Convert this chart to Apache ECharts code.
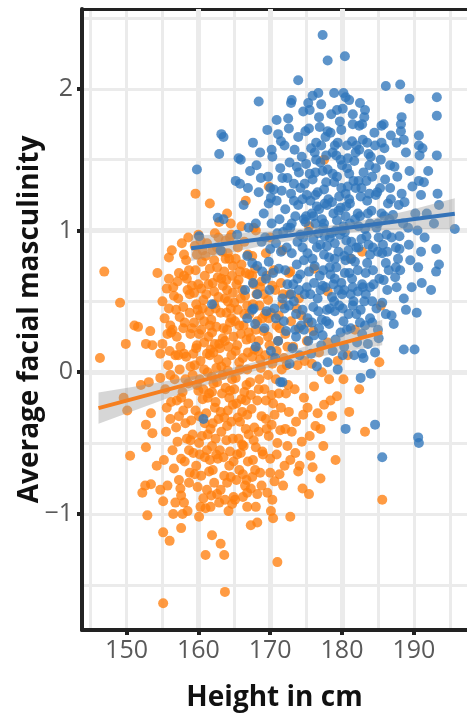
<!DOCTYPE html>
<html>
<head>
<meta charset="utf-8">
<title>Height vs facial masculinity</title>
<script src="https://cdn.jsdelivr.net/npm/echarts@6/dist/echarts.min.js"></script>
<style>
  html, body { margin: 0; padding: 0; background: #fff; }
  #chart { width: 467px; height: 717px; }
</style>
</head>
<body>
<div id="chart"></div>
<script>
// tick labels
const xTicks = [150, 160, 170, 180, 190];
const yTicks = [-1, 0, 1, 2];

// women (orange): [height cm, avg facial masculinity]
const femalePoints = [
  [146.9,0.71],[149.1,0.49],[146.3,0.10],[155.9,0.81],[154.3,0.70],[155.0,0.50],[151.1,0.33],[151.6,0.32],
  [153.3,0.29],[149.9,0.20],[152.7,0.20],[153.6,0.19],[155.0,0.20],[154.7,0.13],[156.1,0.33],[156.4,0.30],
  [149.6,-0.18],[150.1,-0.27],[153.4,-0.29],[152.0,-0.09],[153.1,-0.07],[154.7,-0.04],[156.1,-0.02],
  [157.1,0.64],[158.0,0.68],[155.6,0.59],[156.6,0.54],[155.9,0.45],
  [155.1,-1.63],[163.7,-1.55],[150.5,-0.59],[152.9,-1.01],[152.2,-0.85],[152.6,-0.80],[153.4,-0.79],
  [154.7,-0.83],[155.1,-0.91],[155.1,-1.13],[156.0,-1.19],[157.6,-1.10],[156.5,-1.00],[157.8,-1.00],
  [157.6,-0.87],[158.0,-0.92],[160.1,-1.02],[161.9,-1.15],[163.1,-1.21],[161.0,-1.29],[163.6,-1.29],
  [167.3,-1.08],[168.2,-1.06],[170.1,-0.98],[170.4,-1.03],[171.0,-1.34],[154.2,-0.66],[152.7,-0.53],
  [153.6,-0.43],[152.7,-0.37],[164.7,-0.93],[167.5,-0.74],[161.2,-0.83],[162.6,-0.86],[157.3,-0.76],
  [158.7,-0.78],[166.8,-0.85],
  [183.2,-0.42],[185.6,-0.90],[185.2,0.07],[175.4,-0.86],[172.8,-1.02],[177.0,-0.75],[175.6,-0.59],
  [175.9,-0.67],[173.5,-0.57],[174.1,-0.66],[177.5,-0.23],[176.6,-0.29],[179.3,-0.17],[178.2,-0.05],
  [179.4,0.08],[180.8,0.12],
  [159.6,1.26],[161.6,1.19],[162.9,1.06],[164.5,1.05],[166.6,1.21],[169.8,1.31],[177.5,1.50],
  [167.7,1.02],[175.4,1.03],[182.8,0.85],[181.2,0.80],[172.8,0.71],[176.1,0.73],[178.0,0.57],
  [185.4,0.47],[174.0,0.52],
  [155.3,0.38],[155.8,0.05],[156.2,-0.21],[155.5,-0.42],[156.8,0.12],[156.4,-0.55],[155.9,0.66],
  [156.9,0.44],[156.1,-0.33],[155.4,-0.12],[156.6,-0.68],[157.0,0.25],[155.7,0.27],[156.3,0.86],
  [156.7,-0.05],[155.2,-0.62],[156.0,0.15],[156.9,-0.39],[155.6,-0.25],[156.5,0.60],
  [157.2,0.52],[157.5,0.18],[157.8,-0.14],[158.1,0.35],[158.4,-0.47],[158.7,0.72],[158.9,0.04],
  [157.3,-0.31],[157.6,-0.61],[158.0,0.83],[158.3,0.11],[158.6,-0.22],[158.8,-0.71],[157.4,0.02],
  [157.9,0.46],[158.2,-0.36],[158.5,0.58],[157.1,-0.49],[157.7,0.91],[158.9,0.27],[157.5,-0.82],
  [158.2,-0.05],[158.7,-0.55],[157.9,0.31],[158.4,0.66],[157.2,0.12],[158.8,0.42],[157.6,-0.18],
  [158.1,-0.63],[158.6,0.95],
  [159.1,0.61],[159.3,0.13],[159.6,-0.27],[159.9,0.44],[160.2,-0.58],[160.5,0.78],[160.8,0.02],
  [159.2,-0.44],[159.5,0.89],[159.8,-0.09],[160.1,0.27],[160.4,-0.73],[160.7,0.51],[160.9,-0.36],
  [159.4,0.35],[159.7,-0.66],[160.0,0.97],[160.3,0.08],[160.6,-0.19],[160.9,0.68],[159.2,-0.02],
  [159.6,0.72],[159.9,-0.81],[160.2,0.40],[160.5,-0.45],[160.8,0.21],[159.3,-0.57],[159.8,0.19],
  [160.1,-0.31],[160.4,0.59],[160.7,-0.89],[159.5,0.05],[160.0,-0.13],[160.6,0.86],[159.1,0.31],
  [160.3,-0.95],[160.8,0.36],[159.7,0.48],[160.2,-0.05],[160.9,-0.60],
  [161.1,0.55],[161.3,-0.18],[161.6,0.12],[161.9,-0.52],[162.2,0.79],[162.5,0.03],[162.8,-0.33],
  [161.2,0.91],[161.5,-0.70],[161.8,0.37],[162.1,-0.08],[162.4,0.45],[162.7,-0.61],[162.9,0.20],
  [161.4,0.25],[161.7,-0.40],[162.0,0.63],[162.3,-0.25],[162.6,0.88],[161.1,-0.29],[161.5,0.43],
  [161.8,-0.87],[162.1,0.14],[162.4,-0.47],[162.7,0.67],[161.3,0.00],[161.6,0.73],[161.9,-0.14],
  [162.2,-0.78],[162.5,0.32],[162.8,0.53],[161.2,-0.55],[161.7,0.16],[162.0,-0.36],[162.3,0.98],
  [162.6,-0.07],[162.9,-0.92],[161.4,0.62],[161.9,0.28],[162.4,-0.21],[162.8,0.09],[161.0,-0.96],
  [162.2,0.48],[161.6,-0.62],[162.6,0.74],
  [163.1,0.42],[163.3,-0.15],[163.6,0.71],[163.9,-0.48],[164.2,0.18],[164.5,-0.74],[164.8,0.56],
  [163.2,0.04],[163.5,-0.60],[163.8,0.93],[164.1,-0.27],[164.4,0.35],[164.7,-0.05],[164.9,-0.88],
  [163.4,0.61],[163.7,0.22],[164.0,-0.38],[164.3,0.80],[164.6,0.12],[163.1,-0.83],[163.5,0.31],
  [163.8,-0.11],[164.1,0.50],[164.4,-0.56],[164.7,0.68],[163.3,0.85],[163.6,-0.32],[163.9,0.07],
  [164.2,-0.98],[164.5,0.45],[164.8,-0.23],[163.2,-0.42],[163.7,0.52],[164.0,0.30],[164.3,-0.66],
  [164.6,0.97],[164.9,0.25],[163.4,-0.02],[163.9,0.65],[164.4,-0.13],[164.8,-0.47],[163.0,0.17],
  [164.1,0.84],[163.6,-0.73],[164.6,-0.35],
  [165.1,0.36],[165.3,-0.22],[165.6,0.65],[165.9,-0.57],[166.2,0.10],[166.5,-0.80],[166.8,0.47],
  [165.2,-0.04],[165.5,0.88],[165.8,-0.35],[166.1,0.58],[166.4,-0.14],[166.7,0.23],[166.9,-0.63],
  [165.4,0.19],[165.7,-0.69],[166.0,0.76],[166.3,0.33],[166.6,-0.40],[165.1,-0.90],[165.5,0.44],
  [165.8,0.02],[166.1,-0.28],[166.4,0.92],[166.7,-0.09],[165.3,0.62],[165.6,-0.47],[165.9,0.27],
  [166.2,-0.72],[166.5,0.54],[166.8,-0.30],[165.2,0.80],[165.7,0.07],[166.0,-0.19],[166.6,0.70],
  [166.9,0.14],[165.4,-0.58],[166.3,-0.52],[165.0,0.49],[166.8,-0.95],
  [167.1,0.41],[167.4,-0.26],[167.7,0.62],[168.0,-0.53],[168.3,0.15],[168.6,-0.71],[168.9,0.38],
  [167.2,-0.07],[167.5,0.82],[167.8,-0.39],[168.1,0.55],[168.4,-0.12],[168.7,0.03],[167.3,0.24],
  [167.6,-0.62],[167.9,0.73],[168.2,-0.86],[168.5,0.47],[168.8,-0.31],[167.0,-0.44],[167.5,0.11],
  [168.0,0.30],[168.4,-0.42],[168.8,0.64],[167.3,-0.82],[167.8,0.16],[168.6,0.09],[167.1,0.69],
  [168.2,-0.20],[168.9,-0.56],
  [169.1,0.29],[169.4,-0.33],[169.7,0.51],[170.0,-0.61],[170.3,0.06],[170.6,-0.77],[170.9,0.33],
  [169.2,-0.12],[169.5,0.68],[169.8,-0.45],[170.1,0.42],[170.4,-0.22],[170.7,0.58],[169.3,0.12],
  [169.6,-0.85],[169.9,0.19],[170.2,-0.37],[170.5,0.72],[170.8,-0.05],[169.0,-0.58],[169.7,-0.02],
  [170.3,-0.90],[170.9,0.15],[169.4,0.84],
  [171.1,0.22],[171.4,-0.41],[171.7,0.48],[172.0,-0.66],[172.3,0.05],[172.6,-0.28],[172.9,0.36],
  [171.2,-0.15],[171.5,0.63],[171.8,-0.80],[172.1,0.27],[172.4,-0.52],[172.7,0.55],[171.3,-0.72],
  [171.9,0.10],[172.5,-0.09],[172.8,-0.62],[171.6,0.02],
  [173.2,0.18],[173.6,-0.35],[174.0,0.31],[174.4,-0.49],[174.8,0.08],[175.2,-0.25],[173.4,-0.12],
  [173.9,-0.70],[174.3,0.40],[174.7,-0.18],[175.1,0.22],[175.5,-0.45],[173.7,0.45],[174.5,-0.82],
  [175.8,0.06],
  [176.3,-0.38],[176.8,0.14],[177.4,-0.52],[178.0,0.21],[178.6,-0.31],[179.1,-0.62],[180.2,-0.05],
  [181.0,-0.28],[181.8,0.30],[176.0,0.29],[177.2,0.00],[182.4,-0.12],
  [157.4,0.39],[157.9,-0.27],[158.3,0.79],[158.6,-0.08],[159.0,-0.34],[159.4,0.56],[159.7,0.17],
  [160.1,-0.50],[160.4,0.30],[160.7,-0.12],[161.0,0.82],[161.3,-0.44],[161.6,0.33],[161.9,-0.03],
  [162.2,0.57],[162.5,-0.58],[162.8,0.95],[163.1,-0.28],[163.4,0.24],[163.7,-0.90],[164.0,0.58],
  [164.3,-0.18],[164.6,0.38],[164.9,-0.63],[165.2,0.15],[165.5,-0.32],[165.8,0.71],[166.1,-0.51],
  [166.4,0.41],[166.7,-0.76],[167.0,0.28],[167.3,-0.16],[167.6,0.48],[167.9,-0.69],[168.2,0.36],
  [168.5,-0.05],[168.8,-0.80],[169.1,0.55],[169.4,-0.20],[169.7,0.25],[170.0,-0.71],[170.3,0.61],
  [170.6,-0.30],[170.9,-0.58],[171.2,0.40],[171.5,-0.25],[171.8,0.55],[172.1,-0.40],[172.4,0.18],
  [158.0,0.13],[158.9,-0.48],[159.8,0.83],[160.6,0.45],[161.5,-0.15],[162.3,0.20],[163.2,0.66],
  [164.1,0.01],[165.0,-0.12],[165.9,0.52],[166.8,0.02],[167.7,-0.48],[168.6,0.60],[169.5,-0.40],
  [170.4,0.10],[171.3,0.31],[160.0,0.62],[161.2,0.13],[162.0,-0.69],[163.0,-0.55],[163.9,0.42],
  [164.8,0.75],[165.7,0.33],[166.6,-0.20],[167.5,0.68],[168.4,0.22],[169.3,0.41],[170.2,-0.16],
  [157.0,-0.20],[156.2,0.28],[155.7,-0.80],[156.8,-0.92],[158.5,-0.98],[159.5,-0.72],[161.7,-0.95],
  [164.0,-0.78],[166.2,-0.88],[168.0,-0.95],[162.0,0.86],[164.4,0.95],[166.9,0.83],[158.8,0.55],
  [157.3,0.70],[160.3,0.93],[163.8,0.80],[165.3,-0.76],[169.8,0.38],[171.0,-0.50],[172.2,-0.15],
  [173.0,-0.42],[173.8,0.05],[174.6,-0.30],[175.3,0.35],[176.1,-0.10],[177.0,-0.40],[178.4,-0.20],
  [172.6,0.70],[171.7,0.86],[170.0,0.95],[168.0,1.00],[166.0,1.03],[164.0,1.12]
];

// men (blue): [height cm, avg facial masculinity]
const malePoints = [
  [163.5,1.66],[163.2,1.68],[162.9,1.54],[159.8,1.43],[165.2,1.35],[162.7,1.09],[163.5,1.08],[165.6,1.51],
  [177.3,2.38],[178.0,2.20],[180.4,2.23],[173.9,2.06],[186.1,2.02],[188.1,2.03],[189.4,1.93],[193.2,1.94],
  [193.2,1.81],[193.2,1.53],[168.4,1.91],[172.9,1.90],[176.7,1.97],[180.2,1.97],[180.5,1.94],[181.0,1.92],
  [183.2,1.85],[181.5,1.82],[182.4,1.74],[185.5,1.74],[186.8,1.67],[188.3,1.80],[188.2,1.75],[188.2,1.70],
  [188.6,1.64],[190.7,1.67],[190.7,1.60],[190.8,1.53],[171.1,1.68],[172.6,1.72],[167.6,1.62],[170.2,1.57],
  [165.9,1.50],[168.1,1.46],[168.7,1.37],[165.8,1.33],[170.1,1.23],[171.7,1.37],[193.3,1.26],[193.5,1.18],
  [195.7,1.01],[190.7,1.35],[191.4,1.34],
  [190.5,1.00],[191.0,0.85],[193.1,0.87],[193.5,0.76],[193.1,0.71],[191.1,0.63],[187.6,0.60],[187.5,0.74],
  [187.5,0.88],[188.0,0.87],[185.6,0.84],[186.1,0.41],
  [188.6,0.16],[190.1,0.16],[182.6,-0.04],[184.0,-0.01],[180.5,-0.40],[184.6,-0.37],[190.6,-0.46],
  [190.7,-0.50],[185.6,-0.60],[178.0,0.07],[182.8,0.13],[171.4,-0.07],
  [161.9,0.48],[167.7,0.45],[160.1,0.96],[165.4,0.97],[163.1,0.86],[167.5,0.77],[168.2,0.75],[166.8,0.38],
  [168.0,0.18],[170.1,0.15],[170.8,0.38],[160.7,-0.33],[167.5,0.44],[171.7,-0.07],
  [166.3,1.18],[166.8,0.82],[167.2,1.42],[167.6,0.63],[168.0,1.05],[168.4,1.27],[168.8,0.92],[166.5,0.58],
  [167.9,0.34],[168.6,1.55],[167.0,1.02],[168.2,0.55],[166.9,1.30],[168.9,0.71],
  [169.1,1.12],[169.4,0.66],[169.7,1.38],[170.0,0.87],[170.3,1.52],[170.6,0.45],[170.9,1.21],[171.2,0.73],
  [171.5,1.63],[171.8,0.99],[169.2,0.31],[169.6,1.71],[169.9,0.58],[170.2,1.05],[170.5,1.29],[170.8,0.91],
  [171.1,0.22],[171.4,1.44],[171.7,0.52],[169.3,0.95],[169.8,1.19],[170.4,0.70],[170.9,1.78],[171.3,1.08],
  [171.9,0.36],[169.5,0.43],[170.7,0.10],[171.6,1.28],
  [172.1,1.15],[172.4,0.62],[172.7,1.48],[173.0,0.84],[173.3,1.33],[173.6,0.41],[173.9,1.66],[174.2,0.97],
  [174.5,1.22],[174.8,0.55],[172.2,0.29],[172.5,1.79],[172.8,1.02],[173.1,0.17],[173.4,1.57],[173.7,0.76],
  [174.0,1.41],[174.3,0.33],[174.6,1.84],[174.9,1.06],[172.3,0.88],[172.6,0.47],[172.9,1.26],[173.2,0.62],
  [173.5,1.10],[173.8,0.92],[174.1,0.12],[174.4,1.52],[174.7,0.79],[172.0,1.60],[173.0,1.92],[173.6,0.25],
  [174.2,0.69],[174.8,1.33],[172.7,0.06],[173.9,1.18],[174.5,0.44],[172.4,1.37],[173.3,0.50],[174.9,1.70],
  [172.1,0.72],[174.6,0.95],[173.7,1.45],
  [175.1,1.25],[175.4,0.71],[175.7,1.58],[176.0,0.94],[176.3,1.41],[176.6,0.52],[176.9,1.73],[177.2,1.08],
  [177.5,0.83],[177.8,1.34],[175.2,0.38],[175.5,1.85],[175.8,1.12],[176.1,0.26],[176.4,1.62],[176.7,0.98],
  [177.0,1.48],[177.3,0.61],[177.6,1.19],[177.9,0.44],[175.3,0.99],[175.6,0.55],[175.9,1.36],[176.2,0.75],
  [176.5,1.17],[176.8,0.31],[177.1,1.89],[177.4,1.02],[177.7,1.66],[175.0,1.47],[175.7,0.13],[176.3,1.05],
  [176.9,0.68],[177.5,1.29],[177.9,0.89],[175.4,1.72],[176.0,0.46],[176.6,1.27],[177.2,0.37],[177.8,1.53],
  [175.2,0.84],[175.9,1.95],[176.5,0.88],[177.1,0.19],[177.6,0.96],[176.2,1.55],[176.8,1.15],[177.4,0.72],
  [175.6,1.21],[177.0,0.58],
  [178.1,1.22],[178.4,0.69],[178.7,1.55],[179.0,0.91],[179.3,1.38],[179.6,0.47],[179.9,1.71],[180.2,1.03],
  [180.5,0.79],[180.8,1.31],[178.2,0.34],[178.5,1.82],[178.8,1.12],[179.1,0.23],[179.4,1.62],[179.7,0.97],
  [180.0,1.46],[180.3,0.58],[180.6,1.17],[180.9,0.41],[178.3,0.95],[178.6,0.53],[178.9,1.34],[179.2,0.74],
  [179.5,1.14],[179.8,0.28],[180.1,1.86],[180.4,0.99],[180.7,1.60],[178.0,1.43],[178.7,0.15],[179.3,1.07],
  [179.9,0.63],[180.5,1.26],[180.9,0.86],[178.4,1.69],[179.0,0.43],[179.6,1.24],[180.2,0.36],[180.8,1.51],
  [178.2,0.81],[178.9,1.97],[179.5,0.85],[180.1,0.12],[180.6,0.93],[179.2,1.53],[179.8,1.16],[180.4,0.70],
  [178.6,1.20],[180.0,0.55],[178.8,0.62],[179.7,1.77],
  [181.1,1.19],[181.4,0.66],[181.7,1.49],[182.0,0.88],[182.3,1.35],[182.6,0.44],[182.9,1.64],[183.2,1.01],
  [183.5,0.77],[183.8,1.26],[181.2,0.31],[181.5,1.75],[181.8,1.08],[182.1,0.21],[182.4,1.57],[182.7,0.94],
  [183.0,1.41],[183.3,0.55],[183.6,1.12],[183.9,0.38],[181.3,0.92],[181.6,0.50],[181.9,1.30],[182.2,0.72],
  [182.5,1.10],[182.8,0.27],[183.1,1.80],[183.4,0.96],[183.7,1.54],[181.0,1.40],[181.7,0.12],[182.3,1.03],
  [182.9,0.60],[183.5,1.21],[183.9,0.83],[181.4,1.63],[182.0,0.41],[182.6,1.24],[183.2,0.33],[183.8,1.46],
  [181.8,0.78],[182.5,1.90],[183.3,0.70],
  [184.1,1.14],[184.4,0.62],[184.7,1.44],[185.0,0.85],[185.3,1.30],[185.6,0.49],[185.9,1.58],[186.2,0.97],
  [186.5,0.72],[186.8,1.22],[184.2,0.35],[184.5,1.69],[184.8,1.02],[185.1,0.24],[185.4,1.50],[185.7,0.90],
  [186.0,1.36],[186.3,0.58],[186.6,1.08],[186.9,0.40],[184.3,0.88],[184.9,1.27],[185.5,1.12],[186.1,0.77],
  [186.7,1.46],[184.6,0.14],[185.2,0.66],[185.8,1.75],[186.4,1.19],[184.0,1.52],
  [187.1,1.11],[187.4,0.67],[187.7,1.38],[188.0,0.96],[188.3,1.26],[188.6,0.52],[188.9,1.55],[189.2,1.02],
  [189.5,0.79],[189.8,1.31],[187.2,0.34],[187.6,1.62],[188.1,0.72],[188.5,1.05],[188.9,0.44],[189.4,1.42],
  [187.9,1.18],[189.7,0.60],
  [190.2,1.12],[190.6,0.74],[191.0,1.25],[191.5,0.95],[192.0,1.42],[192.4,0.58],[191.8,1.12],[190.4,0.42],
  [192.8,1.05],[191.2,1.58],
  [174.0,0.58],[175.3,0.22],[176.5,0.04],[177.8,0.36],[179.0,0.66],[180.3,0.18],[181.5,0.47],[182.8,0.62],
  [183.6,0.20],[184.8,0.45],[176.1,0.63],[178.3,0.45],[179.4,0.02],[181.0,0.70],[182.2,0.57],[183.9,0.60],
  [185.0,0.30],[177.3,0.26],[174.7,0.30],[180.7,0.30],
  [172.4,1.02],[172.9,0.55],[173.3,1.21],[173.8,0.66],[174.2,1.30],[174.7,1.08],[175.1,0.60],[175.5,1.40],
  [175.9,0.80],[176.3,1.25],[176.7,0.43],[177.1,1.60],[177.5,1.05],[177.9,1.18],[178.3,0.74],[178.7,1.40],
  [179.1,1.00],[179.5,0.58],[179.9,1.30],[180.3,0.82],[180.7,1.44],[181.1,1.05],[181.5,0.60],[181.9,1.55],
  [182.3,0.88],[182.7,1.30],[183.1,0.50],[183.5,1.62],[183.9,1.05],[184.3,0.72],[184.7,1.25],[185.1,0.95],
  [185.5,1.62],[185.9,1.10],[186.3,0.85],[186.7,1.30],
  [176.0,1.10],[177.3,1.42],[178.5,0.98],[179.8,1.50],[181.0,1.22],[182.2,1.12],[183.4,1.35],[184.6,1.60],
  [180.5,1.10],[178.0,1.70],[176.8,1.80],[179.3,1.85],[181.6,1.35],[182.8,1.75],[184.2,1.38],[185.0,1.05],
  [177.7,0.60],[179.0,0.80],[180.0,1.00],[181.3,0.80],[182.5,0.35],[183.7,0.90],[174.5,0.88],[173.5,0.30],
  [175.8,0.35],[177.0,0.90],[178.9,0.50],[180.1,0.45],[181.2,0.55],[183.0,0.10],[184.2,0.50],[185.8,0.65],
  [186.9,0.95],[187.8,0.80],[188.7,1.20],[189.3,0.90],[187.3,1.45],[176.4,1.50],[175.0,1.10],[173.0,1.05],
  [171.0,0.98],[170.0,1.30],[172.0,0.45],[171.5,0.85],[169.8,0.78],[175.3,1.90],[179.0,1.60],[182.0,1.60]
];

// fitted lines (end points) and their confidence bands
const maleFit = [[159.0, 0.875], [195.7, 1.118]];
const femaleFit = [[146.1, -0.253], [185.6, 0.281]];

const maleBandX = [159, 164, 169, 174, 179, 184, 189, 195.7];
const maleBandLow = [0.785, 0.840, 0.893, 0.939, 0.975, 0.998, 1.008, 1.008];
const maleBandHigh = [0.965, 0.976, 0.989, 1.009, 1.039, 1.082, 1.138, 1.228];

const femaleBandX = [146.1, 151, 156, 161, 166, 171, 176, 181, 185.6];
const femaleBandLow = [-0.363, -0.272, -0.179, -0.092, -0.014, 0.048, 0.101, 0.149, 0.191];
const femaleBandHigh = [-0.143, -0.102, -0.059, -0.012, 0.046, 0.118, 0.201, 0.289, 0.371];

const chart = echarts.init(document.getElementById('chart'));

const FONT = '"Open Sans", "DejaVu Sans", sans-serif';
const GRID_MAJOR = { color: '#ebebeb', width: 5 };
const GRID_MINOR = { color: '#ebebeb', width: 3 };

function bandSeries(xs, lo, hi) {
  return {
    type: 'custom',
    z: 3,
    silent: true,
    data: xs.map((x, i) => [x, lo[i], hi[i]]),
    encode: { x: 0, y: [1, 2] },
    renderItem: (params, api) => {
      if (params.dataIndex !== 0) return;
      let pts = [];
      xs.forEach((x, i) => pts.push(api.coord([x, lo[i]])));
      for (let i = xs.length - 1; i >= 0; i--) pts.push(api.coord([xs[i], hi[i]]));
      return {
        type: 'polygon',
        shape: { points: pts },
        style: { fill: 'rgba(153,153,153,0.4)' }
      };
    }
  };
}

const option = {
  backgroundColor: '#fff',
  animation: false,
  grid: { left: 82, right: 0, top: 9, bottom: 84 },
  xAxis: [
    {
      type: 'value',
      min: 143.8, max: 197.4,
      position: 'bottom',
      splitNumber: 5, minInterval: 10, maxInterval: 10,
      z: 2,
      name: 'Height in cm',
      nameLocation: 'middle',
      nameGap: 54,
      nameMoveOverlap: false,
      nameTextStyle: { fontFamily: FONT, fontSize: 28, fontWeight: 'bold', color: '#111' },
      axisLine: { onZero: false, lineStyle: { color: '#222', width: 4 } },
      axisTick: { customValues: xTicks, length: 5, lineStyle: { color: '#222', width: 4 } },
      axisLabel: { customValues: xTicks, fontFamily: FONT, fontSize: 25, color: '#595959', margin: 8 },
      splitLine: { show: true, showMinLine: false, showMaxLine: false, lineStyle: GRID_MAJOR }
    },
    {
      type: 'value',
      min: 143.8, max: 197.4,
      position: 'top',
      splitNumber: 10, minInterval: 5, maxInterval: 5,
      z: 1,
      axisLine: { show: true, onZero: false, lineStyle: { color: '#222', width: 3 } },
      axisTick: { show: false },
      axisLabel: { show: false },
      splitLine: { show: true, showMinLine: false, showMaxLine: false, lineStyle: GRID_MINOR }
    }
  ],
  yAxis: [
    {
      type: 'value',
      min: -1.819, max: 2.563,
      position: 'left',
      splitNumber: 4, minInterval: 1, maxInterval: 1,
      z: 2,
      name: 'Average facial masculinity',
      nameLocation: 'middle',
      nameRotate: 90,
      nameGap: 38,
      nameMoveOverlap: false,
      nameTextStyle: { fontFamily: FONT, fontSize: 28, fontWeight: 'bold', color: '#111' },
      axisLine: { onZero: false, lineStyle: { color: '#222', width: 4 } },
      axisTick: { customValues: yTicks, length: 5, lineStyle: { color: '#222', width: 4 } },
      axisLabel: {
        customValues: yTicks, fontFamily: FONT, fontSize: 25, color: '#595959', margin: 9,
        formatter: v => (v < 0 ? '\u2212' + Math.abs(v) : String(v))
      },
      splitLine: { show: true, showMinLine: false, showMaxLine: false, lineStyle: GRID_MAJOR }
    },
    {
      type: 'value',
      min: -1.819, max: 2.563,
      position: 'right',
      splitNumber: 9, minInterval: 0.5, maxInterval: 0.5,
      z: 1,
      axisLine: { show: false },
      axisTick: { show: false },
      axisLabel: { show: false },
      splitLine: { show: true, showMinLine: false, showMaxLine: false, lineStyle: GRID_MINOR }
    }
  ],
  series: [
    {
      name: 'Women',
      type: 'scatter',
      z: 2,
      symbolSize: 10,
      data: femalePoints,
      itemStyle: { color: '#ff7f0e', opacity: 0.78 }
    },
    {
      name: 'Men',
      type: 'scatter',
      z: 2,
      symbolSize: 10,
      data: malePoints,
      itemStyle: { color: '#2f76bb', opacity: 0.78 }
    },
    bandSeries(femaleBandX, femaleBandLow, femaleBandHigh),
    bandSeries(maleBandX, maleBandLow, maleBandHigh),
    {
      type: 'line',
      z: 4,
      data: femaleFit,
      showSymbol: false,
      silent: true,
      lineStyle: { color: '#f57f20', width: 4 }
    },
    {
      type: 'line',
      z: 4,
      data: maleFit,
      showSymbol: false,
      silent: true,
      lineStyle: { color: '#3473b8', width: 4 }
    }
  ]
};

chart.setOption(option);
</script>
</body>
</html>
